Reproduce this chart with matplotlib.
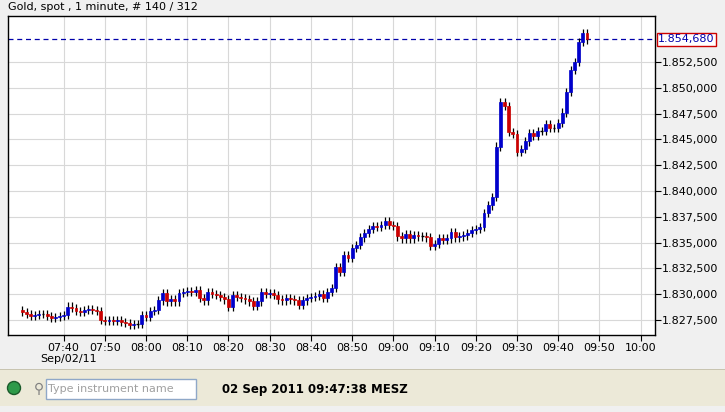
import matplotlib
matplotlib.use("Agg")
import matplotlib.pyplot as plt
import matplotlib.dates as mdates
from matplotlib.patches import Rectangle, Ellipse
import datetime as dt

closes = [1828.3,1828.1,1827.9,1828.0,1828.1,1828.1,1827.9,1827.7,1827.8,1827.9,
          1828.0,1828.8,1828.7,1828.4,1828.3,1828.5,1828.6,1828.5,1828.4,1827.5,
          1827.4,1827.5,1827.4,1827.5,1827.3,1827.2,1827.0,1827.1,1827.1,1828.0,
          1827.8,1828.4,1828.5,1829.4,1830.1,1829.3,1829.5,1829.3,1830.1,1830.2,
          1830.3,1830.2,1830.4,1829.6,1829.4,1830.2,1830.0,1829.9,1829.7,1829.5,
          1828.8,1829.9,1829.7,1829.6,1829.5,1829.3,1828.9,1829.3,1830.2,1830.0,
          1830.1,1829.9,1829.5,1829.4,1829.6,1829.5,1829.4,1829.0,1829.4,1829.6,
          1829.7,1829.8,1830.0,1829.6,1830.2,1830.6,1832.6,1832.2,1833.8,1833.5,
          1834.5,1834.8,1835.5,1835.9,1836.3,1836.6,1836.5,1836.7,1837.1,1836.7,
          1836.6,1835.6,1835.4,1835.8,1835.4,1835.7,1835.6,1835.6,1835.5,1834.7,
          1834.9,1835.4,1835.3,1835.4,1836.0,1835.5,1835.6,1835.7,1835.9,1836.2,
          1836.3,1836.5,1837.9,1838.6,1839.4,1844.3,1848.6,1848.2,1845.7,1845.5,
          1843.8,1844.1,1844.8,1845.6,1845.3,1845.8,1845.8,1846.5,1846.1,1846.1,
          1846.6,1847.6,1849.6,1851.7,1852.5,1854.4,1855.3,1854.68]
first_open = 1828.5
wick = 0.4
last_price = 1854.68
last_time = dt.datetime(2011, 9, 2, 9, 47)
x_ticks = ["07:40","07:50","08:00","08:10","08:20","08:30","08:40","08:50",
           "09:00","09:10","09:20","09:30","09:40","09:50","10:00"]
y_ticks = [1827.5,1830.0,1832.5,1835.0,1837.5,1840.0,1842.5,1845.0,1847.5,1850.0,1852.5]

def fmt(v):
    s = f"{v:,.3f}"
    return s.replace(",", "X").replace(".", ",").replace("X", ".")

n = len(closes)
opens = [first_open] + closes[:-1]
times = [last_time - dt.timedelta(minutes=(n - 1 - i)) for i in range(n)]

W, H = 725, 412
fig = plt.figure(figsize=(W/100, H/100), dpi=100, facecolor="#f0f0f0")
ax = fig.add_axes([8/W, (H-335)/H, 647/W, 319/H])
ax.set_facecolor("white")

ax.set_xlim(mdates.date2num(dt.datetime(2011,9,2,7,26,30)), mdates.date2num(dt.datetime(2011,9,2,10,3,30)))
ax.set_ylim(1826.05, 1856.95)

xt = [mdates.date2num(dt.datetime.strptime("2011-09-02 " + t, "%Y-%m-%d %H:%M")) for t in x_ticks]
ax.set_xticks(xt)
ax.set_xticklabels(x_ticks, fontsize=8)
ax.set_yticks(y_ticks)
ax.set_yticklabels([fmt(v) for v in y_ticks], fontsize=8)
ax.yaxis.tick_right()
ax.tick_params(axis="y", direction="out", length=4, pad=1, colors="black")
ax.tick_params(axis="x", direction="out", length=4, pad=2)
ax.grid(True, color="#d8d8d8", linewidth=0.8)
ax.set_axisbelow(True)
for s in ax.spines.values():
    s.set_color("black"); s.set_linewidth(1)

bw = 0.7 / 1440
for t, o, c in zip(times, opens, closes):
    x = mdates.date2num(t)
    hi = max(o, c) + wick
    lo = min(o, c) - wick
    ax.vlines(x, lo, hi, color="black", linewidth=0.9, zorder=2)
    col = "#0000cc" if c >= o else "#cc0000"
    h = abs(c - o)
    if h < 0.08:
        ax.hlines(c, x - bw/2, x + bw/2, color="black", linewidth=1, zorder=3)
    else:
        ax.add_patch(Rectangle((x - bw/2, min(o, c)), bw, h, facecolor=col, edgecolor=col, linewidth=0.5, zorder=3))

ax.axhline(last_price, color="#0000aa", linestyle=(0, (4, 3)), linewidth=0.9, zorder=1)
ax.text(1.005, last_price, fmt(last_price), transform=ax.get_yaxis_transform(), va="center", ha="left",
        fontsize=8, color="#0000aa", bbox=dict(boxstyle="square,pad=0.15", fc="white", ec="#cc0000", lw=1))

fig.text(8/W, 1 - 7/H, "Gold, spot , 1 minute, # 140 / 312", fontsize=8, va="center", ha="left")
fig.text(40/W, 1 - 359/H, "Sep/02/11", fontsize=8, va="center", ha="left")

# status bar
fig.patches.append(Rectangle((0, 6/H), 1, 36/H, transform=fig.transFigure, facecolor="#ece9d8", edgecolor="none"))
fig.patches.append(Rectangle((0, 42/H), 1, 1/H, transform=fig.transFigure, facecolor="#c8c4b0", edgecolor="none"))
fig.patches.append(Ellipse((14/W, 24/H), 13/W, 13/H, transform=fig.transFigure, facecolor="#2e9a4a", edgecolor="#1a5a2a"))
fig.patches.append(Rectangle((46/W, 13/H), 150/W, 20/H, transform=fig.transFigure, facecolor="white", edgecolor="#8fa8c8"))
fig.text(48/W, 23/H, "Type instrument name", fontsize=8, color="#a0a0a0", va="center")
fig.text(34/W, 23/H, "⚲", fontsize=10, color="#808080", va="center")
fig.text(222/W, 23/H, "02 Sep 2011 09:47:38 MESZ", fontsize=8.5, fontweight="bold", va="center")

fig.savefig("out.png", dpi=100, facecolor=fig.get_facecolor())
